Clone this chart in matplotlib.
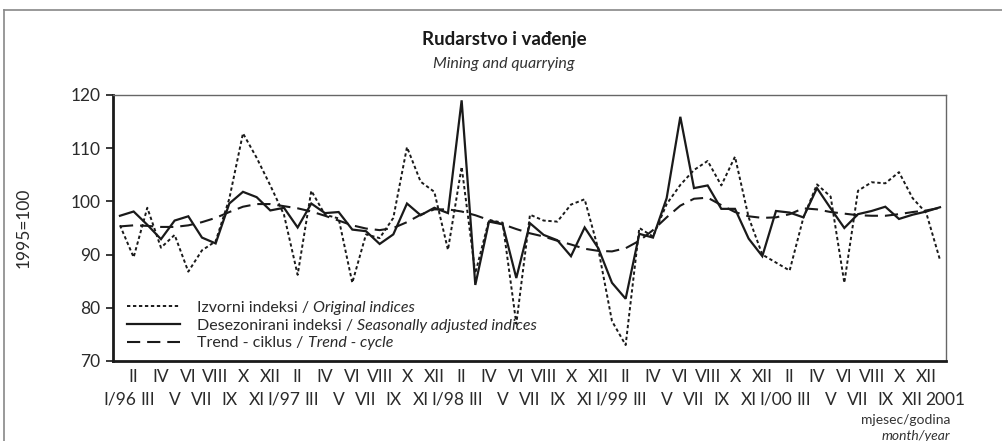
import numpy as np
import matplotlib
matplotlib.use('Agg')
from matplotlib import pyplot as plt
from matplotlib.lines import Line2D
from matplotlib.transforms import ScaledTranslation

plt.rcParams['font.family'] = ['Lato', 'DejaVu Sans']
plt.rcParams['lines.scale_dashes'] = False

# monthly indices, I/1996 .. I/2001 (1995=100)
original = [95.5, 89.5, 98.8, 91.3, 93.7, 86.8, 90.8, 92.5, 100.5, 112.8,
            108.2, 103.0, 97.5, 86.2, 102.0, 97.5, 96.8, 84.7, 93.8, 93.1,
            96.9, 110.2, 103.7, 101.8, 90.9, 106.5, 86.5, 96.5, 96.0, 77.0,
            97.5, 96.4, 96.2, 99.4, 100.4, 91.0, 77.5, 73.0, 95.0, 93.4,
            99.5, 103.1, 105.9, 107.6, 103.0, 108.4, 97.0, 90.0, 88.5, 87.0,
            96.9, 103.2, 100.9, 84.7, 102.0, 103.6, 103.4, 105.5, 100.6, 97.8,
            89.0]
seasonal = [97.3, 98.1, 95.6, 92.9, 96.4, 97.2, 93.2, 92.1, 99.6, 101.8,
            100.8, 98.3, 98.8, 95.1, 99.6, 97.8, 98.0, 94.7, 94.4, 92.0,
            93.8, 99.6, 97.4, 98.8, 97.8, 119.0, 84.3, 96.2, 95.7, 85.6,
            95.9, 93.7, 92.7, 89.7, 95.1, 91.2, 84.7, 81.7, 93.9, 93.2,
            100.6, 115.9, 102.5, 103.0, 98.6, 98.6, 93.0, 89.7, 98.2, 97.9,
            97.0, 102.5, 98.7, 95.0, 97.6, 98.2, 99.0, 96.7, 97.5, 98.1,
            98.9]
trend = [95.3, 95.5, 95.4, 95.2, 95.2, 95.5, 96.1, 96.9, 98.0, 99.0,
         99.5, 99.5, 99.1, 98.7, 98.1, 97.3, 96.4, 95.5, 94.9, 94.6,
         95.0, 96.1, 97.5, 98.5, 98.5, 98.1, 97.4, 96.5, 95.7, 94.8,
         94.0, 93.4, 92.6, 91.9, 91.1, 90.7, 90.6, 91.2, 92.6, 94.6,
         97.0, 99.2, 100.5, 100.7, 99.3, 98.0, 97.2, 96.9, 97.0, 97.6,
         98.7, 98.5, 98.0, 97.7, 97.4, 97.3, 97.3, 97.6, 98.0, 98.3,
         98.8]

upper_labels = ['II', 'IV', 'VI', 'VIII', 'X', 'XII'] * 5
lower_labels = ['I/96', 'III', 'V', 'VII', 'IX', 'XI',
                'I/97', 'III', 'V', 'VII', 'IX', 'XI',
                'I/98', 'III', 'V', 'VII', 'IX', 'XI',
                'I/99', 'III', 'V', 'VII', 'IX', 'XI',
                'I/00', 'III', 'V', 'VII', 'IX', 'XII', '2001']

legend_rows = [('Izvorni indeksi / ', 'Original indices'),
               ('Desezonirani indeksi / ', 'Seasonally adjusted indices'),
               ('Trend - ciklus / ', 'Trend - cycle')]

ink = '#1a1a1a'
txt = '#2a2a2a'
styles = [dict(lw=1.4, dashes=(2.4, 1.9)),
          dict(lw=1.6, linestyle='-'),
          dict(lw=1.5, dashes=(9.5, 5.0))]

months = np.arange(len(original))

fig = plt.figure(figsize=(10.02, 4.41), dpi=100)
ax = fig.add_axes([113 / 1002, 1 - 361 / 441, 833 / 1002, 266 / 441])

for series, st in zip([original, seasonal, trend], styles):
    ax.plot(months, series, color=ink, solid_joinstyle='miter', **st)

ax.set_xlim(-0.51, 60.44)
ax.set_ylim(70, 120)
ax.set_yticks(np.arange(70, 121, 10))
ax.tick_params(axis='y', length=5, width=1.3, pad=4, labelsize=12.5,
               colors=txt)

ax.set_xticks(months[0::2])
ax.set_xticklabels(lower_labels)
ax.set_xticks(months[1::2], minor=True)
ax.set_xticklabels(upper_labels, minor=True)
ax.tick_params(axis='x', which='major', length=0, pad=22, labelsize=12.5,
               colors=txt)
ax.tick_params(axis='x', which='minor', length=0, pad=5.5, labelsize=12.5,
               colors=txt)
last = ax.get_xticklabels()[-1]
last.set_transform(last.get_transform() +
                   ScaledTranslation(5 / 100, 0, fig.dpi_scale_trans))

for side in ['left', 'bottom']:
    ax.spines[side].set_linewidth(2.0)
    ax.spines[side].set_color(ink)
for side in ['top', 'right']:
    ax.spines[side].set_linewidth(1.0)
    ax.spines[side].set_color('#666666')

ax.set_ylabel('1995=100', fontsize=12.5, color=txt)
ax.yaxis.set_label_coords(-81 / 833, 0.5)

# legend drawn by hand because of the mixed upright / italic labels
row_y = [0.205, 0.139, 0.072]
texts = []
for (plain, ital), st, y in zip(legend_rows, styles, row_y):
    ax.add_line(Line2D([0.017, 0.080], [y, y], transform=ax.transAxes,
                       color=ink, **st))
    t = ax.text(0.101, y, plain, transform=ax.transAxes, fontsize=11.5,
                va='center_baseline', color=txt)
    texts.append((t, ital, y))

fig.canvas.draw()
renderer = fig.canvas.get_renderer()
for t, ital, y in texts:
    bb = t.get_window_extent(renderer)
    x_end = ax.transAxes.inverted().transform((bb.x1, bb.y0))[0]
    ax.text(x_end, y, ital, transform=ax.transAxes, fontsize=11.5,
            style='italic', va='center_baseline', color=txt)

fig.text(0.503, 1 - 40 / 441, 'Rudarstvo i vađenje', ha='center',
         va='center', fontsize=13.5, fontweight='bold', color=ink)
fig.text(0.503, 1 - 64 / 441, 'Mining and quarrying', ha='center',
         va='center', fontsize=11.5, style='italic', color='#333333')

fig.text(950 / 1002, 1 - 420 / 441, 'mjesec/godina', ha='right',
         va='center', fontsize=10, color='#333333')
fig.text(950 / 1002, 1 - 436 / 441, 'month/year', ha='right',
         va='center', fontsize=10, style='italic', color='#333333')

# outer frame (top and left edges)
fig.add_artist(Line2D([4 / 1002, 1], [1 - 10 / 441, 1 - 10 / 441],
                      transform=fig.transFigure, color='#888888', lw=1.2))
fig.add_artist(Line2D([4 / 1002, 4 / 1002], [0, 1 - 10 / 441],
                      transform=fig.transFigure, color='#888888', lw=1.2))

fig.savefig('out.png', dpi=100)
print('Complete')
